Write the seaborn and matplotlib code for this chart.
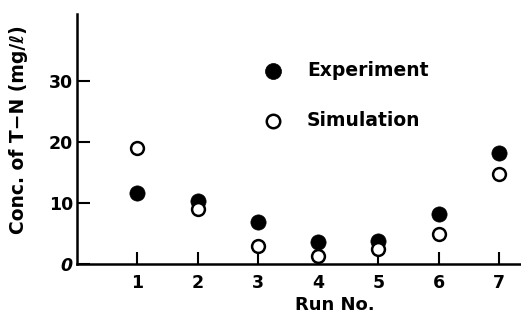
import matplotlib
matplotlib.use("Agg")
import matplotlib.pyplot as plt
import seaborn as sns
import pandas as pd

runs = [1, 2, 3, 4, 5, 6, 7]
experiment = [11.7, 10.3, 6.9, 3.6, 3.7, 8.2, 18.2]
simulation = [19.1, 9.0, 3.0, 1.3, 2.4, 4.9, 14.7]
yticks = [0, 10, 20, 30]
ytick_labels = ["0", "10", "20", "30"]

sns.set_style("ticks")
plt.rcParams["font.family"] = ["DejaVu Sans"]
plt.rcParams["font.weight"] = "bold"
for k in ["text.color", "axes.labelcolor", "xtick.color", "ytick.color", "axes.edgecolor"]:
    plt.rcParams[k] = "black"

df = pd.DataFrame({"run": runs, "Experiment": experiment, "Simulation": simulation})

fig = plt.figure(figsize=(5.21, 3.24), dpi=100)
ax = fig.add_axes([77/521, 60/324, (520-77)/521, (264-14)/324])

sns.scatterplot(data=df, x="run", y="Experiment", ax=ax, s=120, color="black",
                edgecolor="black", linewidth=0.5, label="Experiment", zorder=3)
sns.scatterplot(data=df, x="run", y="Simulation", ax=ax, s=85, facecolor="white",
                edgecolor="black", linewidth=1.8, label="Simulation", zorder=4)

ax.set_xlim(0, 7.35)
ax.set_ylim(0, 41)
ax.set_xticks(runs)
ax.set_xticklabels([str(r) for r in runs], fontsize=12.5, fontweight="bold")
ax.set_yticks(yticks)
ax.set_yticklabels(ytick_labels, fontsize=12.5, fontweight="bold")
ax.get_yticklabels()[0].set_fontstyle("italic")
ax.tick_params(axis="both", direction="in", length=9, width=1.5, color="black", pad=7)
ax.tick_params(axis="y", pad=3)

for side in ["top", "right"]:
    ax.spines[side].set_visible(False)
for side in ["left", "bottom"]:
    ax.spines[side].set_linewidth(1.8)
    ax.spines[side].set_color("black")

ax.set_xlabel("Run No.", fontsize=13, fontweight="bold")
ax.xaxis.set_label_coords((335-77)/(520-77), -0.13)
ax.set_ylabel("Conc. of T−N (mg/ℓ)", fontsize=13.5, fontweight="bold")
ax.yaxis.set_label_coords(-0.11, 0.536)

leg = ax.legend(frameon=False, loc="upper left", bbox_to_anchor=(0.422, 0.812),
                prop={"size": 13.5, "weight": "bold"}, labelspacing=1.65,
                handletextpad=1.3, borderaxespad=0, borderpad=0, handlelength=1.0,
                markerscale=1.05)

fig.savefig("out.png", dpi=100)
